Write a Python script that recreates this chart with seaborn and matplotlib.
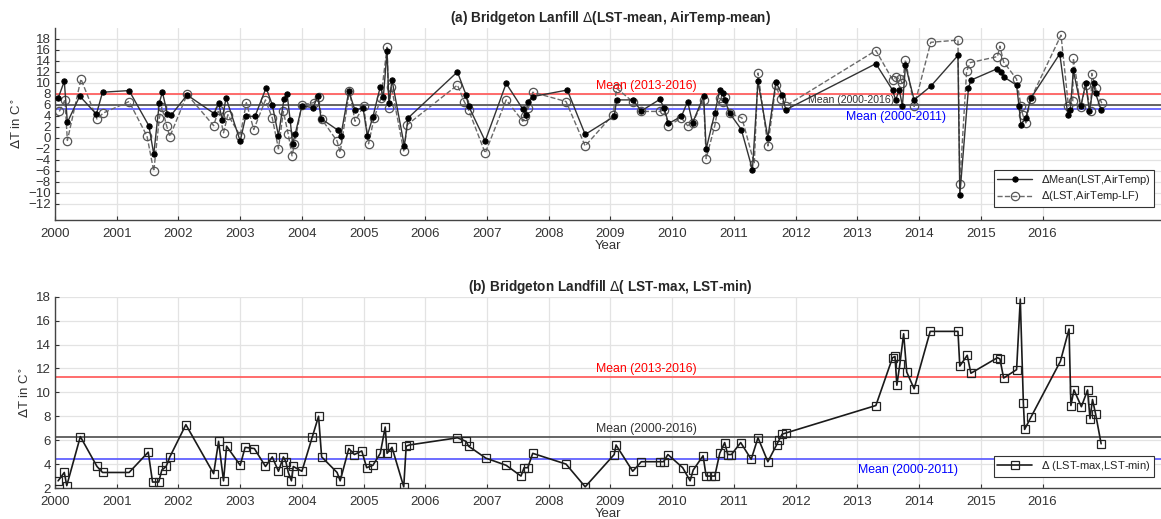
import numpy as np
import pandas as pd
import matplotlib
matplotlib.use("Agg")
import matplotlib.pyplot as plt
import seaborn as sns

# ---- data: (a) mean LST minus mean air temperature ----
mean_dates = [2000.05, 2000.15, 2000.20, 2000.40, 2000.67, 2000.77, 2001.20, 2001.52, 2001.60, 2001.69,
              2001.74, 2001.82, 2001.88, 2002.14, 2002.58, 2002.65, 2002.71, 2002.77, 2003.00, 2003.09,
              2003.24, 2003.42, 2003.52, 2003.62, 2003.71, 2003.76, 2003.81, 2003.85, 2003.89, 2004.00,
              2004.18, 2004.26, 2004.31, 2004.58, 2004.63, 2004.76, 2004.86, 2004.99, 2005.06, 2005.15,
              2005.27, 2005.32, 2005.38, 2005.41, 2005.46, 2005.66, 2005.72, 2006.52, 2006.66, 2006.70,
              2006.97, 2007.31, 2007.58, 2007.63, 2007.66, 2007.74, 2008.30, 2008.59, 2009.06, 2009.10,
              2009.36, 2009.50, 2009.80, 2009.87, 2009.94, 2010.15, 2010.25, 2010.33, 2010.51, 2010.55,
              2010.69, 2010.77, 2010.82, 2010.85, 2010.93, 2011.12, 2011.30, 2011.39, 2011.55, 2011.68,
              2011.78, 2011.84, 2013.30, 2013.57, 2013.62, 2013.68, 2013.73, 2013.78, 2013.92, 2014.19,
              2014.63, 2014.66, 2014.80, 2014.84, 2015.27, 2015.32, 2015.37, 2015.58, 2015.62, 2015.65,
              2015.73, 2015.81, 2016.28, 2016.41, 2016.45, 2016.50, 2016.62, 2016.70, 2016.76, 2016.83,
              2016.86, 2016.95]
mean_delta = [7.2, 10.3, 2.8, 7.6, 4.3, 8.3, 8.6, 2.2, -3.0, 6.4,
              8.3, 4.4, 4.1, 7.8, 4.4, 6.4, 3.2, 7.3, -0.6, 3.9,
              3.9, 9.1, 6.0, 0.4, 7.1, 8.0, 3.2, -1.1, 0.6, 5.8,
              5.5, 7.6, 3.5, 1.4, 0.3, 8.5, 5.0, 5.5, 0.4, 3.8,
              9.3, 7.5, 15.8, 6.3, 10.5, -1.5, 3.6, 12.0, 7.8, 5.8,
              -0.6, 9.9, 5.2, 4.2, 6.6, 7.5, 8.7, 0.6, 3.9, 6.9,
              6.9, 4.9, 7.0, 5.4, 2.6, 3.9, 6.6, 2.7, 7.6, -2.1,
              4.5, 8.7, 8.1, 6.9, 4.5, 1.5, -5.8, 10.3, 0.0, 10.2,
              7.8, 5.1, 13.5, 8.7, 6.9, 8.7, 5.8, 13.2, 6.9, 9.4,
              15.0, -10.5, 9.0, 10.5, 12.6, 12.0, 11.1, 9.6, 5.7, 2.4,
              3.6, 7.2, 15.3, 4.2, 5.1, 12.3, 5.7, 9.9, 4.8, 9.9,
              8.1, 5.1]

# ---- data: (a) LST minus landfill air temperature ----
lf_dates = [2000.07, 2000.16, 2000.20, 2000.42, 2000.68, 2000.78, 2001.20, 2001.49, 2001.60, 2001.69,
            2001.73, 2001.81, 2001.86, 2002.14, 2002.57, 2002.65, 2002.73, 2002.80, 2003.00, 2003.10,
            2003.22, 2003.41, 2003.52, 2003.62, 2003.70, 2003.78, 2003.84, 2003.88, 2004.00, 2004.19,
            2004.27, 2004.32, 2004.57, 2004.62, 2004.77, 2004.86, 2005.00, 2005.08, 2005.17, 2005.28,
            2005.38, 2005.41, 2005.45, 2005.65, 2005.71, 2006.52, 2006.63, 2006.70, 2006.97, 2007.31,
            2007.58, 2007.62, 2007.67, 2007.74, 2008.28, 2008.59, 2009.04, 2009.10, 2009.36, 2009.50,
            2009.80, 2009.87, 2009.94, 2010.15, 2010.25, 2010.33, 2010.51, 2010.55, 2010.69, 2010.77,
            2010.82, 2010.85, 2010.93, 2011.13, 2011.33, 2011.39, 2011.55, 2011.68, 2011.76, 2011.84,
            2013.30, 2013.57, 2013.62, 2013.69, 2013.73, 2013.78, 2013.92, 2014.19, 2014.63, 2014.66,
            2014.77, 2014.83, 2015.27, 2015.31, 2015.37, 2015.58, 2015.65, 2015.68, 2015.73, 2015.81,
            2016.30, 2016.42, 2016.49, 2016.50, 2016.62, 2016.70, 2016.78, 2016.80, 2016.86, 2016.96]
lf_delta = [4.8, 6.9, -0.5, 10.7, 3.4, 4.5, 6.6, 0.3, -6.1, 3.6,
            5.6, 2.1, 0.2, 7.9, 2.2, 5.1, 0.9, 4.2, 0.4, 6.4,
            1.5, 6.9, 3.6, -2.0, 4.8, 0.6, -3.3, -1.1, 6.0, 6.4,
            7.5, 3.4, -0.6, -2.7, 8.6, 3.0, 5.8, -1.1, 3.6, 7.2,
            16.5, 5.4, 9.3, -2.4, 2.4, 9.6, 6.6, 5.1, -2.8, 6.9,
            3.0, 3.9, 5.4, 8.3, 6.6, -1.5, 4.2, 9.0, 6.6, 4.8,
            4.8, 5.1, 2.2, 3.6, 2.2, 2.7, 6.9, -3.8, 2.2, 7.2,
            6.6, 7.5, 4.5, 3.6, -4.7, 11.8, -1.5, 9.6, 7.0, 5.8,
            15.9, 10.6, 11.0, 10.8, 9.9, 14.2, 5.7, 17.4, 17.8, -8.4,
            12.1, 13.7, 14.8, 16.7, 13.8, 10.7, 5.8, 4.2, 2.7, 7.1,
            18.7, 5.8, 6.7, 14.5, 5.6, 9.6, 4.8, 11.7, 9.0, 6.3]

# ---- data: (b) LST max minus LST min ----
range_dates = [2000.05, 2000.15, 2000.19, 2000.41, 2000.68, 2000.77, 2001.20, 2001.51, 2001.58, 2001.68,
               2001.73, 2001.80, 2001.86, 2002.12, 2002.57, 2002.65, 2002.73, 2002.78, 2003.00, 2003.08,
               2003.23, 2003.41, 2003.52, 2003.62, 2003.70, 2003.74, 2003.78, 2003.83, 2003.86, 2004.00,
               2004.17, 2004.27, 2004.32, 2004.57, 2004.62, 2004.76, 2004.85, 2004.97, 2005.05, 2005.15,
               2005.27, 2005.35, 2005.38, 2005.46, 2005.65, 2005.69, 2005.74, 2006.52, 2006.66, 2006.70,
               2006.98, 2007.31, 2007.55, 2007.60, 2007.66, 2007.74, 2008.28, 2008.59, 2009.06, 2009.09,
               2009.36, 2009.50, 2009.80, 2009.86, 2009.93, 2010.17, 2010.29, 2010.34, 2010.50, 2010.55,
               2010.63, 2010.69, 2010.77, 2010.85, 2010.90, 2010.96, 2011.11, 2011.28, 2011.39, 2011.55,
               2011.69, 2011.73, 2011.78, 2011.84, 2013.30, 2013.57, 2013.61, 2013.64, 2013.69, 2013.75,
               2013.80, 2013.92, 2014.18, 2014.63, 2014.66, 2014.78, 2014.84, 2015.27, 2015.31, 2015.37,
               2015.58, 2015.64, 2015.69, 2015.71, 2015.81, 2016.29, 2016.43, 2016.46, 2016.51, 2016.63,
               2016.73, 2016.77, 2016.81, 2016.86, 2016.95]
range_delta = [2.6, 3.3, 2.2, 6.3, 3.8, 3.3, 3.3, 5.0, 2.5, 2.5,
               3.5, 3.8, 4.6, 7.3, 3.2, 5.9, 2.6, 5.5, 3.9, 5.4,
               5.3, 3.8, 4.6, 3.4, 4.6, 4.2, 3.3, 2.6, 3.8, 3.4,
               6.3, 8.0, 4.6, 3.3, 2.6, 5.3, 4.8, 5.1, 3.7, 3.9,
               4.9, 7.1, 4.9, 5.4, 2.1, 5.5, 5.6, 6.2, 5.9, 5.5,
               4.5, 3.9, 3.0, 3.7, 3.7, 4.9, 4.0, 2.1, 4.8, 5.6,
               3.4, 4.2, 4.2, 4.2, 4.8, 3.7, 2.6, 3.5, 4.7, 3.0,
               3.0, 3.0, 4.9, 5.8, 4.8, 4.8, 5.8, 4.4, 6.2, 4.2,
               5.6, 6.0, 6.5, 6.6, 8.9, 12.9, 13.0, 10.6, 12.4, 14.9,
               11.7, 10.3, 15.1, 15.1, 12.2, 13.1, 11.6, 12.9, 12.8, 11.2,
               11.9, 17.8, 9.1, 6.9, 7.9, 12.6, 15.3, 8.9, 10.2, 8.8,
               10.2, 7.8, 9.4, 8.2, 5.7]

# reference means (value, label, colour)
means_a = [(8.0, "Mean (2013-2016)", "red"), (5.9, "Mean (2000-2016)", "black"),
           (5.2, "Mean (2000-2011)", "blue")]
means_b = [(11.3, "Mean (2013-2016)", "red"), (6.25, "Mean (2000-2016)", "black"),
           (4.4, "Mean (2000-2011)", "blue")]

years = list(range(2000, 2017))

sns.set_theme(style="whitegrid")
plt.rcParams["font.family"] = ["Liberation Sans", "DejaVu Sans"]

fig = plt.figure(figsize=(11.61, 5.19), dpi=100)
ax1 = fig.add_axes([0.0474, 0.576, 0.9526, 0.370])
ax2 = fig.add_axes([0.0474, 0.0597, 0.9526, 0.3686])

df_mean = pd.DataFrame({"year": mean_dates, "delta": mean_delta})
df_lf = pd.DataFrame({"year": lf_dates, "delta": lf_delta})
df_rng = pd.DataFrame({"year": range_dates, "delta": range_delta})

line_col = {"red": (1.0, 0.38, 0.38), "black": (0.35, 0.35, 0.35), "blue": (0.38, 0.38, 1.0)}

# ---- panel (a) ----
for val, _, c in means_a:
    ax1.axhline(val, color=line_col[c], lw=1.3, zorder=1)
sns.lineplot(data=df_mean, x="year", y="delta", ax=ax1, estimator=None, sort=False,
             color="#333333", lw=1.0, marker="o", markersize=3.8, markerfacecolor="black",
             markeredgecolor="black", label=r"$\Delta$Mean(LST,AirTemp)", zorder=3)
sns.lineplot(data=df_lf, x="year", y="delta", ax=ax1, estimator=None, sort=False,
             color="#6a6a6a", lw=1.0, linestyle="--", marker="o", markersize=6,
             markerfacecolor="none", markeredgecolor="#555555", markeredgewidth=0.9,
             label=r"$\Delta$(LST,AirTemp-LF)", zorder=2)
ax1.text(2009.58, 8.35, "Mean (2013-2016)", color="red", fontsize=8.8, ha="center", va="bottom")
ax1.text(2012.9, 5.95, "Mean (2000-2016)", color="#333333", fontsize=7.6, ha="center", va="bottom")
ax1.text(2013.63, 4.8, "Mean (2000-2011)", color="blue", fontsize=8.8, ha="center", va="top")
ax1.set_ylim(-15, 20)
ax1.set_yticks(range(-12, 19, 2))
ax1.set_title(r"(a) Bridgeton Lanfill $\Delta$(LST-mean, AirTemp-mean)", fontsize=9.8,
              fontweight="bold", pad=4, x=0.502)
ax1.set_ylabel(r"$\Delta$T in C$^{\circ}$", fontsize=9.5, color="#333333", labelpad=3)
leg1 = ax1.legend(loc="lower right", bbox_to_anchor=(0.999, 0.04), fontsize=8, frameon=True,
                  fancybox=False, edgecolor="#333333", framealpha=1, borderpad=0.3,
                  labelspacing=0.2, handlelength=3.2)
leg1.get_frame().set_linewidth(0.8)

# ---- panel (b) ----
for val, _, c in means_b:
    ax2.axhline(val, color=line_col[c], lw=1.3, zorder=1)
sns.lineplot(data=df_rng, x="year", y="delta", ax=ax2, estimator=None, sort=False,
             color="#1a1a1a", lw=1.2, marker="s", markersize=5.5, markerfacecolor="none",
             markeredgecolor="#222222", markeredgewidth=0.9,
             label=r"$\Delta$ (LST-max,LST-min)", zorder=3)
ax2.text(2009.58, 11.45, "Mean (2013-2016)", color="red", fontsize=8.8, ha="center", va="bottom")
ax2.text(2009.58, 6.45, "Mean (2000-2016)", color="#333333", fontsize=8.8, ha="center", va="bottom")
ax2.text(2013.82, 4.05, "Mean (2000-2011)", color="blue", fontsize=8.8, ha="center", va="top")
ax2.set_ylim(2, 18)
ax2.set_yticks(range(2, 19, 2))
ax2.set_title(r"(b) Bridgeton Landfill $\Delta$( LST-max, LST-min)", fontsize=9.8,
              fontweight="bold", pad=4, x=0.502)
ax2.set_ylabel(r"$\Delta$T in C$^{\circ}$", fontsize=9.5, color="#333333", labelpad=3)
leg2 = ax2.legend(loc="lower right", bbox_to_anchor=(0.999, 0.03), fontsize=8, frameon=True,
                  fancybox=False, edgecolor="#333333", framealpha=1, borderpad=0.3,
                  handlelength=3.2)
leg2.get_frame().set_linewidth(0.8)

for ax in (ax1, ax2):
    ax.set_xlim(2000, 2017.92)
    ax.set_xticks(years)
    ax.set_xticklabels([str(y) for y in years])
    ax.set_xlabel("Year", fontsize=9.5, color="#333333", labelpad=0)
    ax.grid(True, color="#e3e3e3", lw=0.9)
    ax.set_facecolor("white")
    for side in ("top", "right"):
        ax.spines[side].set_visible(False)
    for side in ("left", "bottom"):
        ax.spines[side].set_color("#444444")
        ax.spines[side].set_linewidth(1.0)
    ax.tick_params(axis="both", labelsize=9.5, colors="#333333", direction="in", length=3,
                   width=0.8, pad=3, left=True, bottom=True)
    ax.tick_params(axis="x", pad=6)

fig.savefig("out.png", dpi=100, facecolor="white")
